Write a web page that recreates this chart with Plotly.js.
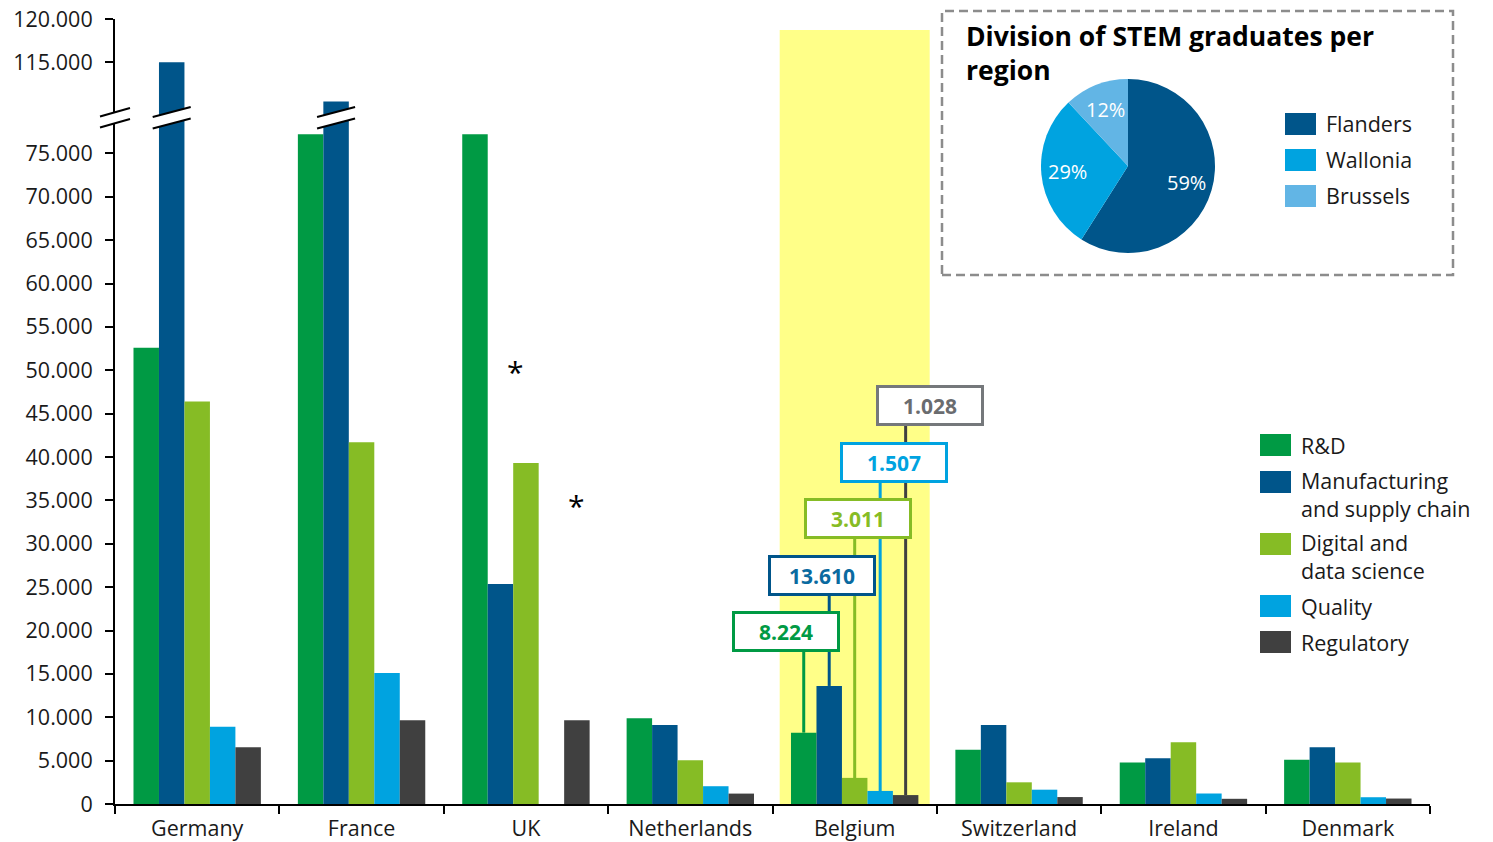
<!DOCTYPE html>
<html><head><meta charset="utf-8">
<script src="https://cdn.plot.ly/plotly-3.0.1.min.js"></script>
<style>html,body{margin:0;padding:0;background:#fff;}#chart{width:1493px;height:842px;}</style>
</head><body><div id="chart"></div>
<script>
// ---------- DATA ----------
const countries = ['Germany','France','UK','Netherlands','Belgium','Switzerland','Ireland','Denmark'];
const rd            = [52600, 77200, 77200, 9900, 8224, 6250, 4780, 5090];
const manufacturing = [115000, 110500, 25350, 9100, 13610, 9100, 5270, 6540];
const digital       = [46400, 41700, 39300, 5050, 3011, 2500, 7120, 4780];
const quality       = [8900, 15100, null, 2050, 1507, 1650, 1210, 780];
const regulatory    = [6550, 9650, 9650, 1200, 1028, 800, 600, 630];
const seriesNames = ['R&D','Manufacturing<br>and supply chain','Digital and<br>data science','Quality','Regulatory'];
const seriesColors = ['#009A44','#00558A','#86BC25','#00A3E0','#404040'];

const regions = ['Flanders','Wallonia','Brussels'];
const regionShares = [59, 29, 12];
const regionColors = ['#00558A','#00A3E0','#62B5E5'];

const yTickValues = [0,5000,10000,15000,20000,25000,30000,35000,40000,45000,50000,55000,60000,65000,70000,75000,115000,120000];
const yTickLabels = ['0','5.000','10.000','15.000','20.000','25.000','30.000','35.000','40.000','45.000','50.000','55.000','60.000','65.000','70.000','75.000','115.000','120.000'];
const highlight = 'Belgium';

// ---------- SCALE WITH AXIS BREAK ----------
const BREAK_AT = 100000, BREAK_OFFSET = 29500, YMAX = 120000 - BREAK_OFFSET;
function disp(v){ return v == null ? null : (v > BREAK_AT ? v - BREAK_OFFSET : v); }

const W = 1493, H = 842, M = {l:115, r:63, t:19, b:38};
const PW = W - M.l - M.r, PH = H - M.t - M.b;
const px2x = px => (px - M.l) / PW;
const py2y = py => (H - M.b - py) / PH;
const py2v = py => py2y(py) * YMAX;
const catPx = PW / countries.length;

const FONT = 'Open Sans, Noto Sans, sans-serif';
const TXT = '#1a1a1a';
const FS = 21.5;

const allSeries = [rd, manufacturing, digital, quality, regulatory];
const BARGAP = 0.225, NS = allSeries.length, SLOT = (1 - BARGAP) / NS;
const slotOffset = i => (i - (NS - 1) / 2) * SLOT;

const traces = allSeries.map((vals, i) => ({
  type: 'bar', x: countries, y: vals.map(disp), name: seriesNames[i].replace('<br>', ' '),
  marker: {color: seriesColors[i], line: {width: 0}},
  customdata: vals, hovertemplate: '%{x}: %{customdata}<extra></extra>', showlegend: false
}));

const pieCx = 1128, pieCy = 166, pieR = 87;
traces.push({
  type: 'pie', labels: regions, values: regionShares, sort: false, direction: 'clockwise', rotation: 0,
  marker: {colors: regionColors, line: {width: 0}}, textinfo: 'none',
  domain: {x: [px2x(pieCx - pieR), px2x(pieCx + pieR)], y: [py2y(pieCy + pieR), py2y(pieCy - pieR)]},
  showlegend: false, hoverinfo: 'label+percent'
});

// ---------- SHAPES & ANNOTATIONS ----------
const shapes = [], annotations = [];
const bi = countries.indexOf(highlight);
const hlHalf = 75 / catPx;
shapes.push({type: 'rect', xref: 'x', yref: 'y', x0: bi - hlHalf, x1: bi + hlHalf, y0: 0, y1: py2v(30),
  fillcolor: '#FFFF88', line: {width: 0}, layer: 'below'});

// pie percentage labels at slice mid-angles
const totalShare = regionShares.reduce((a, b) => a + b, 0);
let acc = 0;
regionShares.forEach(s => {
  const mid = (acc + s / 2) / totalShare * 2 * Math.PI; acc += s;
  const r = pieR * 0.7;
  annotations.push({xref: 'paper', yref: 'paper', x: px2x(pieCx + r * Math.sin(mid)), y: py2y(pieCy - r * Math.cos(mid)),
    xanchor: 'center', yanchor: 'middle',
    text: s + '%', showarrow: false, font: {family: FONT, size: 20, color: '#ffffff'}});
});

// break marks
function breakMark(xref, xl, xr, yLT, yRT, yLB, yRB) {
  shapes.push({type: 'path', xref: xref, yref: 'y', layer: 'above', fillcolor: '#ffffff', line: {width: 0},
    path: `M${xl},${py2v(yLT)} L${xr},${py2v(yRT)} L${xr},${py2v(yRB)} L${xl},${py2v(yLB)} Z`});
  shapes.push({type: 'line', xref: xref, yref: 'y', layer: 'above', x0: xl, x1: xr, y0: py2v(yLT), y1: py2v(yRT), line: {color: '#000', width: 2}});
  shapes.push({type: 'line', xref: xref, yref: 'y', layer: 'above', x0: xl, x1: xr, y0: py2v(yLB), y1: py2v(yRB), line: {color: '#000', width: 2}});
}
breakMark('paper', px2x(100), px2x(130), 116.5, 108, 127.5, 119);
const bw = 19 / catPx;
manufacturing.forEach((v, ci) => {
  if (v > BREAK_AT) { const xc = ci + slotOffset(1); breakMark('x', xc - bw, xc + bw, 117, 107, 128.5, 118.5); }
});

// Belgium callouts
function fmt(v){ return String(v).replace(/\B(?=(\d{3})+(?!\d))/g, '.'); }
const boxPy = [631, 575, 518, 462, 405];
const boxShift = [-18, -7, 3, 14, 24];
const boxBorder = ['#009A44','#00558A','#86BC25','#00A3E0','#75787B'];
const boxText = ['#009A44','#0A6AA0','#86BC25','#00A3E0','#6A6C6F'];
allSeries.forEach((vals, i) => {
  const xc = bi + slotOffset(i);
  const yb = py2v(boxPy[i]);
  shapes.push({type: 'line', xref: 'x', yref: 'y', layer: 'above', x0: xc, x1: xc, y0: vals[bi], y1: yb,
    line: {color: seriesColors[i], width: 3}});
  annotations.push({xref: 'x', yref: 'y', x: xc, y: yb, xshift: boxShift[i], showarrow: false,
    text: '<b>' + fmt(vals[bi]) + '</b>', font: {family: FONT, size: 21, color: boxText[i]},
    bgcolor: '#ffffff', bordercolor: boxBorder[i], borderwidth: 3, borderpad: 0, width: 102, height: 35});
});

// asterisks (UK)
const ui = countries.indexOf('UK');
annotations.push({xref: 'x', yref: 'y', x: ui + (516 - 526) / catPx, y: py2v(371), text: '*', showarrow: false,
  font: {family: FONT, size: 30, color: '#000'}});
annotations.push({xref: 'x', yref: 'y', x: ui + slotOffset(4), y: py2v(505), text: '*', showarrow: false,
  font: {family: FONT, size: 30, color: '#000'}});

// bar legend
const legSq = [434, 471, 533, 595, 631];
const legTxt = [445, 494.5, 556.5, 606, 642];
seriesNames.forEach((n, i) => {
  shapes.push({type: 'rect', xref: 'paper', yref: 'paper', x0: px2x(1260), x1: px2x(1291),
    y0: py2y(legSq[i] + 22), y1: py2y(legSq[i]), fillcolor: seriesColors[i], line: {width: 0}});
  annotations.push({xref: 'paper', yref: 'paper', x: px2x(1299), y: py2y(legTxt[i]), xanchor: 'left', yanchor: 'middle',
    align: 'left', showarrow: false, text: n, font: {family: FONT, size: FS, color: TXT}});
});

// inset box + pie legend + title
shapes.push({type: 'rect', xref: 'paper', yref: 'paper', x0: px2x(942), x1: px2x(1453), y0: py2y(275), y1: py2y(11),
  line: {color: '#8C8C8C', width: 2.5, dash: '9px,5px'}, fillcolor: 'rgba(0,0,0,0)', layer: 'above'});
annotations.push({xref: 'paper', yref: 'paper', x: px2x(964), y: py2y(16), xanchor: 'left', yanchor: 'top', align: 'left',
  showarrow: false, text: '<b>Division of STEM graduates per<br>region</b>', font: {family: FONT, size: 26.5, color: '#000'}});
const pieLeg = [113, 149, 185];
regions.forEach((r, i) => {
  shapes.push({type: 'rect', xref: 'paper', yref: 'paper', x0: px2x(1285), x1: px2x(1316),
    y0: py2y(pieLeg[i] + 22), y1: py2y(pieLeg[i]), fillcolor: regionColors[i], line: {width: 0}});
  annotations.push({xref: 'paper', yref: 'paper', x: px2x(1324), y: py2y(pieLeg[i] + 11), xanchor: 'left', yanchor: 'middle',
    showarrow: false, text: r, font: {family: FONT, size: FS, color: TXT}});
});

const layout = {
  width: W, height: H, margin: M, paper_bgcolor: '#fff', plot_bgcolor: 'rgba(0,0,0,0)',
  font: {family: FONT, color: TXT, size: FS},
  barmode: 'group', bargap: BARGAP, bargroupgap: 0, showlegend: false,
  xaxis: {type: 'category', categoryorder: 'array', categoryarray: countries, showline: true, linecolor: '#000', linewidth: 2,
    ticks: 'outside', tickson: 'boundaries', ticklen: 8, tickwidth: 2, tickcolor: '#000', showgrid: false, zeroline: false,
    ticklabelstandoff: 4, tickfont: {family: FONT, size: FS, color: TXT}, fixedrange: true},
  yaxis: {range: [0, YMAX], tickvals: yTickValues.map(disp), ticktext: yTickLabels, showline: true, linecolor: '#000', linewidth: 2,
    ticks: 'outside', ticklen: 8, tickwidth: 2, tickcolor: '#000', showgrid: false, zeroline: false, ticklabelstandoff: 8,
    tickfont: {family: FONT, size: FS, color: TXT}, fixedrange: true},
  shapes: shapes, annotations: annotations
};
Plotly.newPlot('chart', traces, layout, {displayModeBar: false, staticPlot: true});
</script></body></html>
